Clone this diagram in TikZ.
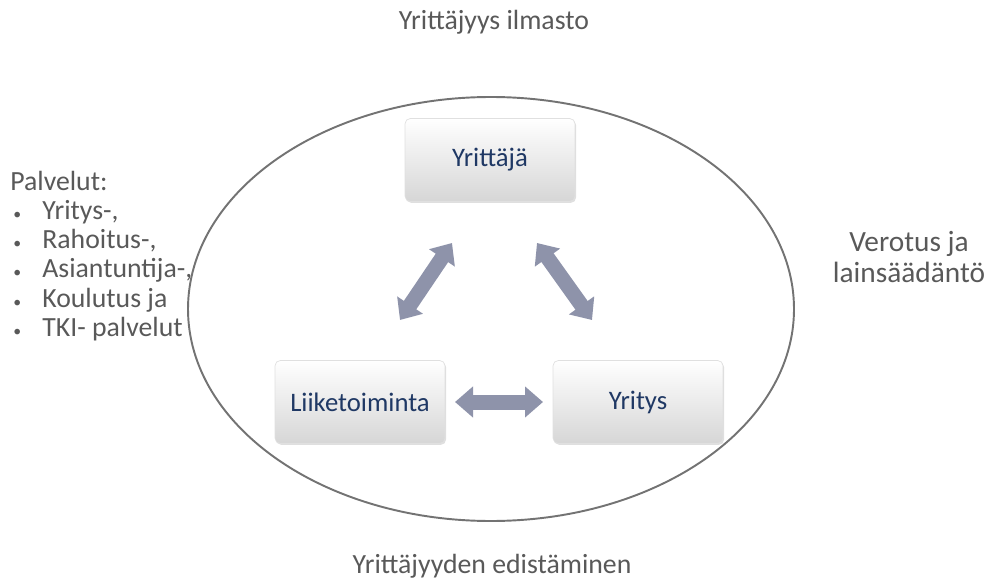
\documentclass[tikz,border=0pt]{standalone}
\usepackage{fontspec}
\setmainfont{Carlito}
\usetikzlibrary{arrows.meta}
\usetikzlibrary{shadows}
\definecolor{txtgray}{RGB}{89,89,89}
\definecolor{boxtxt}{RGB}{31,56,100}
\definecolor{arrowfill}{RGB}{142,147,170}
\colorlet{ringgray}{black!55}
\colorlet{boxtop}{white}
\colorlet{boxbot}{black!16}
\newcommand{\blt}{\makebox[0.64cm][l]{\hspace{0.06cm}{\small\textbullet}}}

\begin{document}
\begin{tikzpicture}[x=0.02cm,y=-0.02cm,
    side/.style={text=txtgray,font=\fontsize{15.8}{18}\selectfont,inner sep=0pt},
    topic/.style={rounded corners=3pt,minimum width=3.4cm,minimum height=1.66cm,
      top color=boxtop,bottom color=boxbot,draw=black!12,
      drop shadow={opacity=0.25,shadow xshift=0.6pt,shadow yshift=-0.8pt},
      text=boxtxt,font=\fontsize{15.2}{17}\selectfont},
    twoway/.style={draw=arrowfill,line width=0.3cm,
      {Triangle[length=0.36cm,width=0.6cm]}-{Triangle[length=0.36cm,width=0.6cm]}}]
    \useasboundingbox (0,0) rectangle (989,587);
    % Surroundings
    \node[side] (ilmasto) at (494,22) {Yrittäjyys ilmasto};
    \node[side] (edist) at (492,566) {Yrittäjyyden edistäminen};
    \node[side,align=center,font=\fontsize{16.7}{17.6}\selectfont]
      (vero) at (909,257) {Verotus ja\\lainsäädäntö};
    \node[side,align=left,anchor=west,font=\fontsize{15.8}{16.6}\selectfont]
      (palv) at (10,256)
      {Palvelut:\\ \blt Yritys-,\\ \blt Rahoitus-,\\ \blt Asiantuntija-,\\
       \blt Koulutus ja\\ \blt TKI- palvelut};
    % Ring
    \draw[ringgray,line width=1.1pt] (491,309) ellipse (303 and 212);
    % Boxes
    \node[topic] (yrittaja) at (490,160) {Yrittäjä};
    \node[topic] (liike) at (360,402) {Liiketoiminta};
    \node[topic] (yritys) at (638,402) {Yritys};
    % Arrows
    \coordinate (a1) at (452,243);
    \coordinate (a2) at (400,320);
    \coordinate (b1) at (537,243);
    \coordinate (b2) at (592,320);
    \coordinate (c1) at (455,402);
    \coordinate (c2) at (543,402);
    \draw[twoway] (a1) -- (a2);
    \draw[twoway] (b1) -- (b2);
    \draw[twoway] (c1) -- (c2);
\end{tikzpicture}
\end{document}
